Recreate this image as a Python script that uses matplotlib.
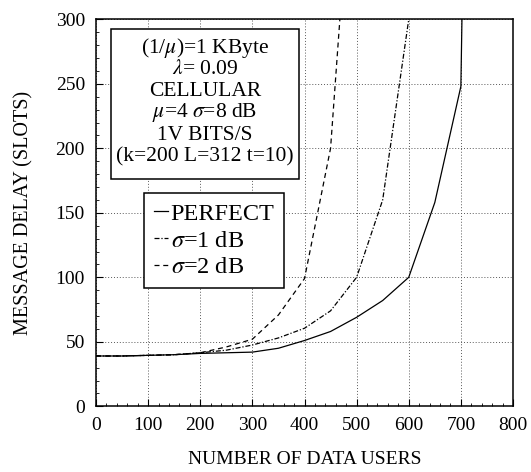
import matplotlib
matplotlib.use("Agg")
import matplotlib.pyplot as plt
from matplotlib.lines import Line2D
from matplotlib.patches import Rectangle
from matplotlib.ticker import MultipleLocator

plt.rcParams["font.family"] = ["Liberation Serif", "DejaVu Serif"]
plt.rcParams["mathtext.fontset"] = "stix"

# data
users_perfect = [0, 50, 100, 150, 200, 250, 300, 350, 400, 450, 500, 550, 600, 650, 700, 750]
delay_perfect = [39, 39, 39.5, 40, 41, 41.5, 42, 45, 51, 58, 69, 82, 100, 158, 248, 1500]
users_sigma1 = [0, 50, 100, 150, 200, 250, 300, 350, 400, 450, 500, 550, 600, 650]
delay_sigma1 = [39, 39, 39.5, 40, 41.5, 43.5, 47.5, 53, 60.5, 74, 100, 160, 300, 650]
users_sigma2 = [0, 50, 100, 150, 200, 250, 300, 350, 400, 450, 500]
delay_sigma2 = [39, 39, 39.5, 40, 41.5, 46, 52, 70.8, 99, 200, 480]

legend_labels = ["PERFECT", r"$\sigma$=1 dB", r"$\sigma$=2 dB"]
info_lines = [
    r"(1/$\mu$)=1 KByte",
    r"$\lambda$= 0.09",
    "CELLULAR",
    r"$\mu$=4 $\sigma$=8 dB",
    "1V BITS/S",
    "(k=200 L=312 t=10)",
]

W, H = 531, 472
fig = plt.figure(figsize=(W / 100, H / 100), dpi=100)
ax = fig.add_axes([96 / W, 1 - 406.3 / H, (513 - 96) / W, (406.3 - 19.3) / H])

style_perfect = "-"
style_sigma1 = (0, (4, 1.5, 1, 1.5))
style_sigma2 = (0, (4, 3))

ax.plot(users_perfect, delay_perfect, color="black", lw=0.9, ls=style_perfect)
ax.plot(users_sigma1, delay_sigma1, color="black", lw=0.9, ls=style_sigma1)
ax.plot(users_sigma2, delay_sigma2, color="black", lw=0.9, ls=style_sigma2)

ax.set_xlim(0, 800)
ax.set_ylim(0, 300)
ax.xaxis.set_major_locator(MultipleLocator(100))
ax.xaxis.set_minor_locator(MultipleLocator(20))
ax.yaxis.set_major_locator(MultipleLocator(50))
ax.yaxis.set_minor_locator(MultipleLocator(10))
ax.tick_params(which="major", direction="in", length=5, width=0.8, labelsize=14, pad=8)
ax.tick_params(which="minor", direction="in", length=2.5, width=0.6)
ax.grid(True, which="major", color="0.35", ls=(0, (1, 2)), lw=0.7)
for sp in ax.spines.values():
    sp.set_linewidth(1.1)

ax.set_xlabel("NUMBER OF DATA USERS", fontsize=14, labelpad=12)
ax.set_ylabel("MESSAGE DELAY (SLOTS)", fontsize=14.5, labelpad=16)

# parameter box
box_x0, box_y0, box_x1, box_y1 = 110.7, 29.3, 299.3, 179.3
fig.patches.append(Rectangle((box_x0 / W, 1 - box_y1 / H), (box_x1 - box_x0) / W,
                             (box_y1 - box_y0) / H, transform=fig.transFigure,
                             facecolor="white", edgecolor="black", lw=1.1, zorder=5))
line_y = [48.3, 70, 91.7, 113, 135, 157]
for txt, y in zip(info_lines, line_y):
    fig.text(205 / W, 1 - y / H, txt, ha="center", va="center", fontsize=15.5, zorder=6)

handles = [Line2D([], [], color="black", lw=0.9, ls=s)
           for s in (style_perfect, style_sigma1, style_sigma2)]
leg = ax.legend(handles, legend_labels, loc="upper left",
                bbox_to_anchor=(144 / W, 1 - 193 / H), bbox_transform=fig.transFigure,
                fontsize=17.5, handlelength=0.6, handletextpad=0.1, labelspacing=0.2,
                borderpad=0.4, borderaxespad=0, fancybox=False, framealpha=1)
leg.get_frame().set_edgecolor("black")
leg.get_frame().set_linewidth(1.1)

fig.savefig("out.png", dpi=100)
